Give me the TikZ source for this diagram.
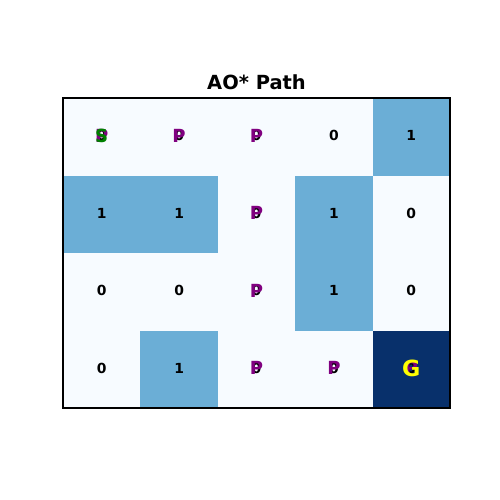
\documentclass[tikz,border=0pt]{standalone}
\usepackage{fontspec}
\setmainfont{DejaVu Sans}
\usepackage{tikz}
\usetikzlibrary{positioning}
\definecolor{cellLow}{HTML}{F7FBFF}
\definecolor{cellMid}{HTML}{6BAED6}
\definecolor{cellHigh}{HTML}{08306B}
\definecolor{pathPurple}{HTML}{800080}
\definecolor{startGreen}{HTML}{008000}
\definecolor{goalYellow}{HTML}{FFFF00}
\begin{document}
\begin{tikzpicture}[x=0.72pt,y=-0.72pt,
  cellnum/.style={font=\bfseries\fontsize{10}{12}\selectfont,text=black,inner sep=0pt},
  pathmark/.style={font=\bfseries\fontsize{13}{15}\selectfont,text=pathPurple,inner sep=0pt},
  startmark/.style={font=\bfseries\fontsize{13}{15}\selectfont,text=startGreen,inner sep=0pt},
  goalmark/.style={font=\bfseries\fontsize{16}{18}\selectfont,text=goalYellow,inner sep=0pt}]
 \useasboundingbox (0,0) rectangle (500,500);
 \node[font=\bfseries\fontsize{14}{16}\selectfont] (title) at (256.5,82.5) {AO* Path};
 % cells
 \fill[cellLow] (63,98) rectangle (450,408);
 \foreach \c/\r in {4/0,0/1,1/1,3/1,3/2,1/3}
   \fill[cellMid] ({63+77.4*\c},{98+77.5*\r}) rectangle ++(77.4,77.5);
 \fill[cellHigh] ({63+77.4*4},{98+77.5*3}) rectangle ++(77.4,77.5);
 % values
 \foreach \c/\r/\v in {0/0/0,1/0/0,2/0/0,3/0/0,4/0/1,
                       0/1/1,1/1/1,2/1/0,3/1/1,4/1/0,
                       0/2/0,1/2/0,2/2/0,3/2/1,4/2/0,
                       0/3/0,1/3/1,2/3/0,3/3/0,4/3/0}
   \node[cellnum] (v\c\r) at ({63+77.4*(\c+0.5)},{98+77.5*(\r+0.5)-1}) {\v};
 % path
 \foreach \c/\r in {0/0,1/0,2/0,2/1,2/2,2/3,3/3,4/3}
   \node[pathmark] (p\c\r) at (v\c\r) {P};
 \node[startmark] (start) at (v00) {S};
 \node[goalmark] (goal) at (v43) {G};
 \draw[line width=0.8pt] (63,98) rectangle (450,408);
\end{tikzpicture}
\end{document}
